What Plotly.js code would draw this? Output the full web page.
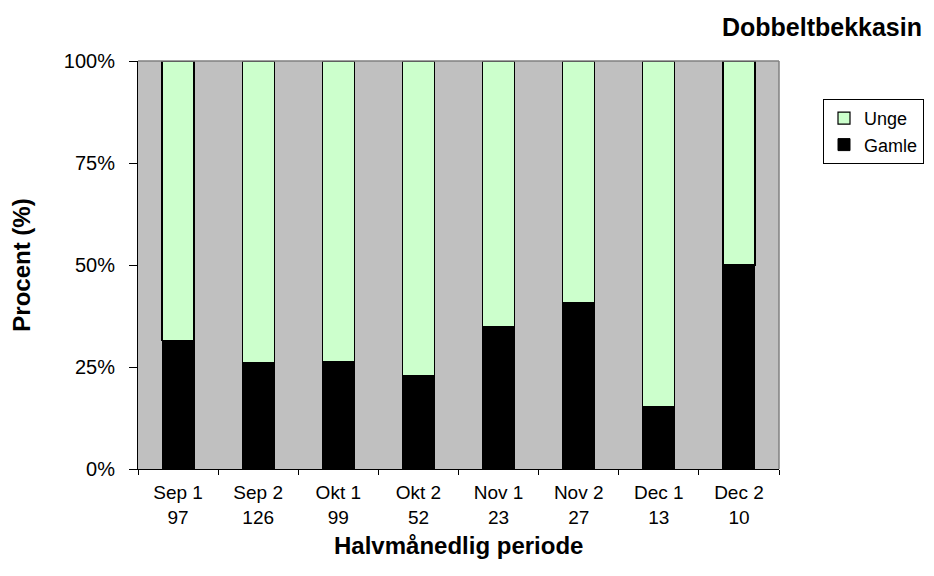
<!DOCTYPE html>
<html>
<head>
<meta charset="utf-8">
<script src="https://cdn.plot.ly/plotly-3.0.1.min.js"></script>
<style>html,body{margin:0;padding:0;background:#fff;}#chart{width:934px;height:576px;}</style>
</head>
<body>
<div id="chart"></div>
<script>
const periods = ["Sep 1", "Sep 2", "Okt 1", "Okt 2", "Nov 1", "Nov 2", "Dec 1", "Dec 2"];
const counts = [97, 126, 99, 52, 23, 27, 13, 10];
const gamle = [31.4, 26.1, 26.3, 23.0, 34.9, 40.8, 15.4, 50.0];
const unge = [68.6, 73.9, 73.7, 77.0, 65.1, 59.2, 84.6, 50.0];

const tickLabels = periods.map((p, i) => p + "<br>" + counts[i]);
const font = "Liberation Sans, Arial, sans-serif";

const traces = [
  {type: "bar", name: "Gamle", x: periods, y: gamle, width: 0.4,
   marker: {color: "#000000", line: {color: "#000000", width: 1}}},
  {type: "bar", name: "Unge", x: periods, y: unge, width: 0.4,
   marker: {color: "#CCFFCC", line: {color: "#000000", width: 1.2}}}
];

const layout = {
  width: 934, height: 576,
  margin: {l: 138, r: 155, t: 61, b: 107, autoexpand: false},
  barmode: "stack",
  paper_bgcolor: "#ffffff",
  plot_bgcolor: "#C0C0C0",
  font: {family: font, size: 20, color: "#000"},
  title: {text: "<b>Dobbeltbekkasin</b>", font: {family: font, size: 25, color: "#000"},
          xref: "container", x: 922/934, xanchor: "right", yref: "container", y: 1 - 27/576, yanchor: "middle"},
  xaxis: {
    type: "category", tickmode: "array", tickvals: periods, ticktext: tickLabels,
    tickson: "boundaries", ticks: "outside", ticklen: 5, tickcolor: "#000", tickwidth: 1,
    showline: true, linecolor: "#000", linewidth: 1, showgrid: false, zeroline: false,
    tickfont: {family: font, size: 19}, ticklabelstandoff: 6
  },
  yaxis: {
    range: [0, 100], tickmode: "array", tickvals: [0, 25, 50, 75, 100],
    ticktext: ["0%", "25%", "50%", "75%", "100%"],
    ticks: "outside", ticklen: 8, tickcolor: "#000", tickwidth: 1,
    showline: true, linecolor: "#000", linewidth: 1, showgrid: false, zeroline: false,
    tickfont: {family: font, size: 20}, ticklabelstandoff: 10,
    title: {text: "<b>Procent (%)</b>", font: {family: font, size: 24}, standoff: 26}
  },
  annotations: [
    {text: "<b>Halvmånedlig periode</b>", xref: "paper", yref: "paper", x: 0.5, y: (469 - 545) / 408,
     xanchor: "center", yanchor: "middle", showarrow: false, font: {family: font, size: 24, color: "#000"}}
  ],
  legend: {
    x: (823 - 138) / 641, xanchor: "left", y: (469 - 99) / 408, yanchor: "top",
    bordercolor: "#000", borderwidth: 1, bgcolor: "#fff",
    traceorder: "reversed", font: {family: font, size: 18},
    itemwidth: 30, tracegroupgap: 0
  },
  shapes: [
    {type: "line", xref: "paper", yref: "paper", x0: 0, x1: 1, y0: 1, y1: 1, line: {color: "#808080", width: 1.5}},
    {type: "line", xref: "paper", yref: "paper", x0: 1, x1: 1, y0: 0, y1: 1, line: {color: "#808080", width: 1.5}}
  ],
  showlegend: true
};

Plotly.newPlot("chart", traces, layout, {displayModeBar: false, staticPlot: true});
</script>
</body>
</html>
